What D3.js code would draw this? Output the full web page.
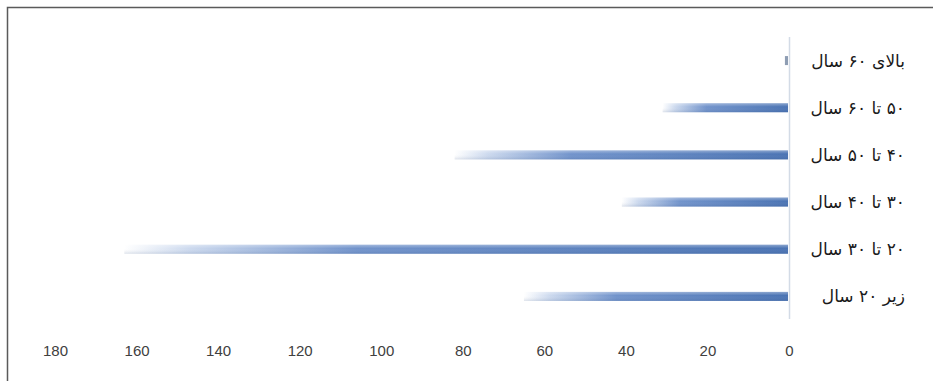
<!DOCTYPE html>
<html>
<head>
<meta charset="utf-8">
<script src="https://cdn.jsdelivr.net/npm/d3@7"></script>
<style>
  html, body { margin: 0; padding: 0; background: #fff; }
  svg { display: block; }
</style>
</head>
<body>
<div id="chart"></div>
<script>
// Age groups (top to bottom) and counts
const categories = ["بالای ۶۰ سال", "۵۰ تا ۶۰ سال", "۴۰ تا ۵۰ سال", "۳۰ تا ۴۰ سال", "۲۰ تا ۳۰ سال", "زیر ۲۰ سال"];
const values = [1, 31, 82, 41, 163, 65];
const tickValues = [0, 20, 40, 60, 80, 100, 120, 140, 160, 180];

const width = 933, height = 381;

const svg = d3.select("#chart").append("svg")
    .attr("width", width)
    .attr("height", height);

// frame (only top and left edges visible)
svg.append("path")
    .attr("d", `M7.5,${height} V7.5 H${width}`)
    .attr("fill", "none")
    .attr("stroke", "#5a5a5a")
    .attr("stroke-width", 1.5);

// Scales - reversed x, zero at the right
const x = d3.scaleLinear().domain([0, 180]).range([789, 55]);
const y = d3.scaleBand().domain(categories).range([37, 320]).paddingInner(0.8).paddingOuter(0.4);

// Gradient: fades out towards the bar's far end
const defs = svg.append("defs");
const grad = defs.append("linearGradient")
    .attr("id", "barGrad")
    .attr("x1", "0%").attr("x2", "100%").attr("y1", "0%").attr("y2", "0%");
grad.append("stop").attr("offset", "0%").attr("stop-color", "#ffffff");
grad.append("stop").attr("offset", "10%").attr("stop-color", "#ccd9ee");
grad.append("stop").attr("offset", "35%").attr("stop-color", "#7193cb");
grad.append("stop").attr("offset", "100%").attr("stop-color", "#4a73b3");

const vgrad = defs.append("linearGradient")
    .attr("id", "barShade")
    .attr("x1", "0%").attr("x2", "0%").attr("y1", "0%").attr("y2", "100%");
vgrad.append("stop").attr("offset", "0%").attr("stop-color", "#ffffff").attr("stop-opacity", 0.35);
vgrad.append("stop").attr("offset", "40%").attr("stop-color", "#ffffff").attr("stop-opacity", 0);
vgrad.append("stop").attr("offset", "100%").attr("stop-color", "#1f3f75").attr("stop-opacity", 0.15);

const bh = 9;
const data = categories.map((c, i) => ({ cat: c, v: values[i] }));

const bars = svg.append("g");
bars.selectAll("rect.bar")
    .data(data)
    .enter().append("rect")
    .attr("class", "bar")
    .attr("x", d => x(d.v))
    .attr("y", d => y(d.cat) + y.bandwidth() / 2 - bh / 2)
    .attr("width", d => Math.max(0, x(0) - x(d.v) - 1))
    .attr("height", bh)
    .attr("fill", d => d.v < 3 ? "#8e9db3" : "url(#barGrad)");

bars.selectAll("rect.shade")
    .data(data.filter(d => d.v >= 3))
    .enter().append("rect")
    .attr("class", "shade")
    .attr("x", d => x(d.v))
    .attr("y", d => y(d.cat) + y.bandwidth() / 2 - bh / 2)
    .attr("width", d => x(0) - x(d.v) - 1)
    .attr("height", bh)
    .attr("fill", "url(#barShade)");

// vertical zero axis line
svg.append("line")
    .attr("x1", x(0) + 0.5).attr("x2", x(0) + 0.5)
    .attr("y1", 37).attr("y2", 319)
    .attr("stroke", "#d3dbe6")
    .attr("stroke-width", 1.5);

// category labels (rtl, right edge at 905)
svg.append("g").selectAll("text")
    .data(categories)
    .enter().append("text")
    .attr("x", 905)
    .attr("y", d => y(d) + y.bandwidth() / 2)
    .attr("dy", "0.35em")
    .attr("text-anchor", "start")
    .attr("direction", "rtl")
    .style("font-family", "'DejaVu Sans', sans-serif")
    .style("font-size", "17px")
    .style("fill", "#1a1a1a")
    .text(d => d);

// bottom tick labels
const xAxis = d3.axisBottom(x).tickValues(tickValues).tickSize(0).tickPadding(0);
const ax = svg.append("g")
    .attr("transform", "translate(0,345)")
    .call(xAxis);
ax.select(".domain").remove();
ax.selectAll("text")
    .style("font-family", "'Liberation Sans', Arial, sans-serif")
    .style("font-size", "15px")
    .style("fill", "#404040");
</script>
</body>
</html>
